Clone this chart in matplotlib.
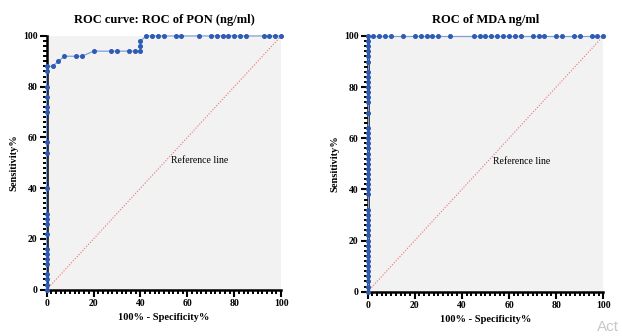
import matplotlib.pyplot as plt
from matplotlib.ticker import MultipleLocator

# ROC of PON: 1 - specificity (%) and sensitivity (%)
pon_fpr = [0] * 21 + [2.5, 5, 7.5, 12.5, 15, 20, 27.5, 30, 35, 37.5, 40, 40, 40,
                      42.5, 45, 47.5, 50, 55, 57.5, 65, 70, 72.5, 75, 77.5, 80,
                      82.5, 85, 92.5, 95, 97.5, 100]
pon_sens = [0, 2, 4, 6, 10, 12, 14, 16, 22, 26, 28, 30, 40, 54, 58, 70, 72, 76,
            80, 86, 88,
            88, 90, 92, 92, 92, 94, 94, 94, 94, 94, 94, 96, 98,
            100, 100, 100, 100, 100, 100, 100, 100, 100, 100, 100, 100,
            100, 100, 100, 100, 100, 100]

# ROC of MDA
mda_sens_axis = [0, 2, 4, 6, 8, 10, 12, 14, 16, 18, 20, 22, 24, 26, 28, 30, 32,
                 38, 40, 42, 44, 46, 48, 50, 52, 54, 56, 58, 60, 62, 64, 70,
                 74, 76, 78, 80, 82, 84, 86, 90, 92, 94, 96, 98]
mda_fpr_top = [0, 2.5, 5, 7.5, 10, 15, 20, 22.5, 25, 27.5, 30, 35, 45, 47.5, 50,
               52.5, 55, 57.5, 60, 62.5, 65, 70, 72.5, 75, 80, 82.5, 87.5, 90,
               95, 97.5, 100]
mda_fpr = [0] * len(mda_sens_axis) + mda_fpr_top
mda_sens = mda_sens_axis + [100] * len(mda_fpr_top)

titles = ['ROC curve: ROC of PON (ng/ml)', 'ROC of MDA ng/ml']

plt.rcParams['font.family'] = ['Liberation Serif', 'DejaVu Serif']

fig = plt.figure(figsize=(6.22, 3.36), dpi=100)
ax1 = fig.add_axes([0.075, 0.138, 0.377, 0.755])
ax2 = fig.add_axes([0.591, 0.132, 0.379, 0.761])

for ax, fpr, sens, title in [(ax1, pon_fpr, pon_sens, titles[0]),
                             (ax2, mda_fpr, mda_sens, titles[1])]:
    ax.set_facecolor('#f2f2f2')
    ax.plot([0, 100], [0, 100], linestyle=(0, (1, 1.5)), color='#f07070',
            linewidth=0.8)
    ax.plot(fpr, sens, color='#7f9fd8', linewidth=0.9, zorder=3, clip_on=False)
    ax.plot(fpr, sens, 'o', color='#2d5bb5', markersize=2.6, zorder=4,
            clip_on=False)
    ax.text(53, 51, 'Reference line', fontsize=7, ha='left', va='center')
    ax.set_xlim(0, 100)
    ax.set_ylim(0, 100)
    ax.xaxis.set_major_locator(MultipleLocator(20))
    ax.yaxis.set_major_locator(MultipleLocator(20))
    ax.xaxis.set_minor_locator(MultipleLocator(2))
    ax.yaxis.set_minor_locator(MultipleLocator(2))
    for s in ['top', 'right']:
        ax.spines[s].set_visible(False)
    for s in ['left', 'bottom']:
        ax.spines[s].set_linewidth(1.8)
    ax.tick_params(which='major', direction='out', length=5, width=1.5,
                   labelsize=7, pad=1.5)
    ax.tick_params(which='minor', direction='out', length=3, width=1.4)
    for lbl in ax.get_xticklabels() + ax.get_yticklabels():
        lbl.set_fontweight('bold')
    ax.set_title(title, fontsize=9, fontweight='bold', pad=9)
    ax.set_xlabel('100% - Specificity%', fontsize=7.5, fontweight='bold',
                  labelpad=4)
    ax.set_ylabel('Sensitivity%', fontsize=7.5, fontweight='bold', labelpad=3)

fig.text(0.995, 0.005, 'Act', fontsize=11, color='#c8c8c8', ha='right',
         va='bottom', family=['Liberation Sans', 'DejaVu Sans'])

fig.savefig('out.png', dpi=100, facecolor='white')
